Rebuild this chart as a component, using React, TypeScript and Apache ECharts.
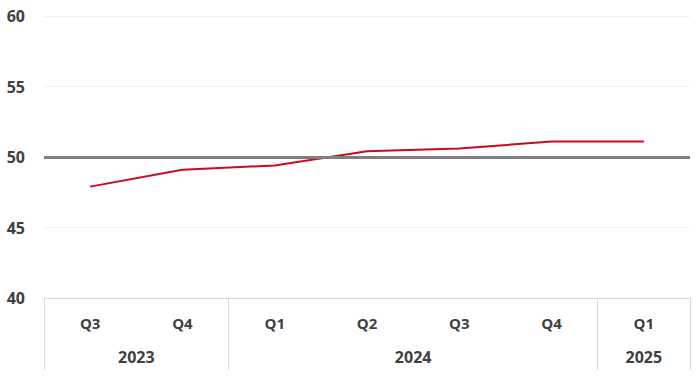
import React, { useEffect, useRef } from "react";
import * as echarts from "echarts";

const quarters = ["Q3", "Q4", "Q1", "Q2", "Q3", "Q4", "Q1"];
const values = [47.9, 49.1, 49.4, 50.4, 50.6, 51.1, 51.1];
const years = ["2023", "2024", "2025"];
const yearCenters = [1, 4, 6.5];
const yearBounds = [0, 2, 6, 7];
const yTicks = { min: 40, max: 60, interval: 5 };
const refLevel = 50;

export default function App() {
  const ref = useRef<HTMLDivElement>(null);
  useEffect(() => {
    const chart = echarts.init(ref.current!, null, { renderer: "svg" });
    const font = "'Open Sans', 'Noto Sans', sans-serif";
    chart.setOption({
      animation: false,
      grid: { left: 44, right: 10, top: 16, bottom: 79 },
      xAxis: [
        {
          type: "category",
          data: quarters,
          boundaryGap: true,
          axisLine: { show: true, lineStyle: { color: "#d9d9d9", width: 1 } },
          axisTick: { show: false },
          axisLabel: {
            margin: 17,
            fontSize: 15,
            fontWeight: "bold",
            color: "#404040",
            fontFamily: font,
          },
          splitLine: { show: false },
        },
        {
          type: "value",
          position: "bottom",
          min: 0,
          max: 7,
          axisLine: { show: false },
          axisTick: {
            show: true,
            length: 72,
            customValues: yearBounds,
            lineStyle: { color: "#d9d9d9", width: 1 },
          },
          axisLabel: {
            show: true,
            margin: 51,
            customValues: yearCenters,
            formatter: (v: number) => {
              const i = yearCenters.indexOf(v);
              return i >= 0 ? years[i] : "";
            },
            fontSize: 16,
            fontWeight: "bold",
            color: "#404040",
            fontFamily: font,
          },
          splitLine: { show: false },
        },
      ],
      yAxis: {
        type: "value",
        min: yTicks.min,
        max: yTicks.max,
        interval: yTicks.interval,
        axisLine: { show: false },
        axisTick: { show: false },
        axisLabel: {
          margin: 19,
          fontSize: 16,
          fontWeight: "bold",
          color: "#404040",
          fontFamily: font,
        },
        splitLine: { lineStyle: { color: "#f0f0f0", width: 1 } },
      },
      series: [
        {
          type: "line",
          data: values,
          xAxisIndex: 0,
          symbol: "none",
          lineStyle: { color: "#cc0a1e", width: 2 },
          markLine: {
            silent: true,
            symbol: ["none", "none"],
            label: { show: false },
            lineStyle: { color: "#7f7f7f", width: 3, type: "solid" },
            data: [{ yAxis: refLevel }],
          },
        },
      ],
    });
    return () => chart.dispose();
  }, []);
  return (
    <div
      ref={ref}
      style={{ position: "fixed", left: 0, top: 0, width: 700, height: 377, background: "#fff" }}
    />
  );
}
